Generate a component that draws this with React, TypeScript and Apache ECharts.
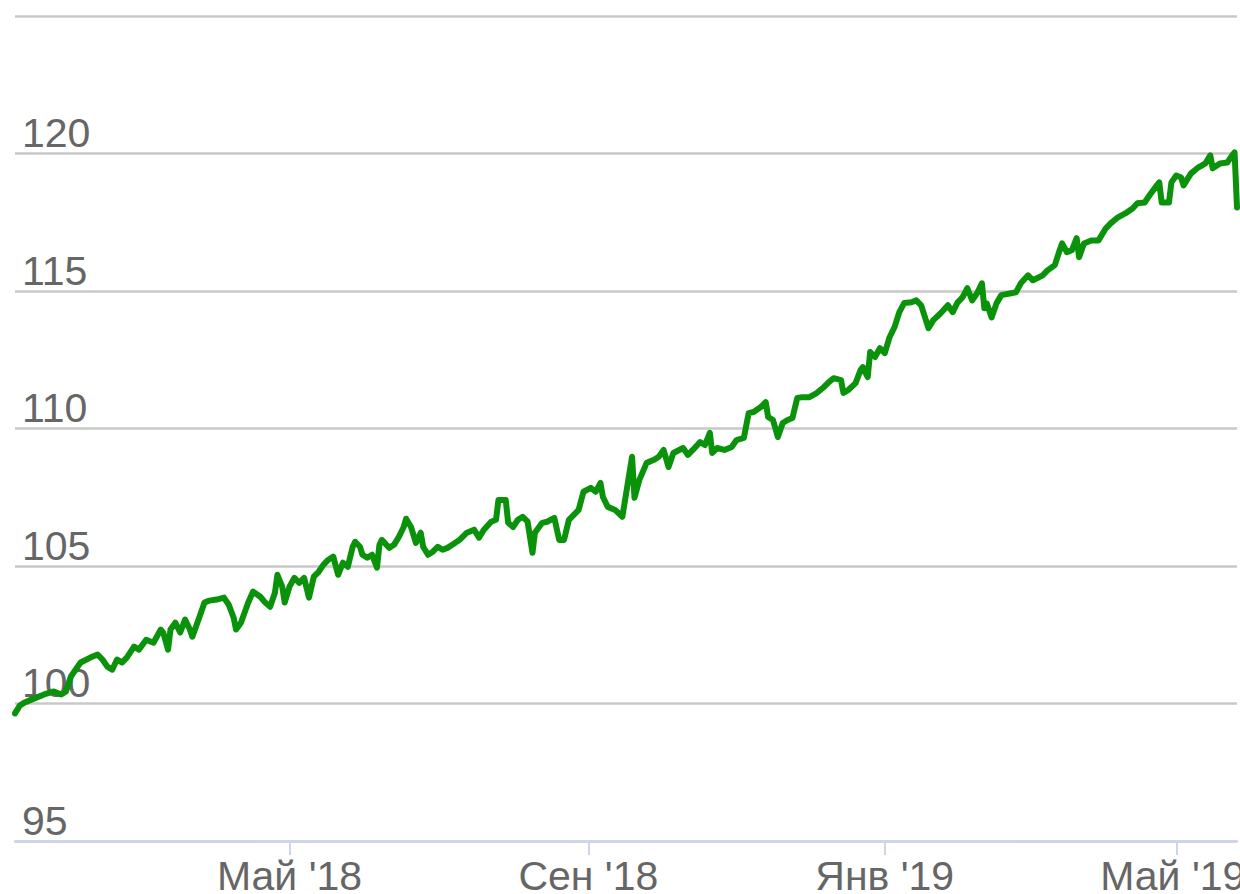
import React, { useEffect, useRef } from "react";
import * as echarts from "echarts";

const dates: string[] = [
  "2018-01-08","2018-01-10","2018-01-12","2018-01-15","2018-01-20","2018-01-24","2018-01-27","2018-01-29","2018-01-31",
  "2018-02-04","2018-02-08","2018-02-11","2018-02-13","2018-02-15","2018-02-17","2018-02-19","2018-02-21","2018-02-23","2018-02-26","2018-02-28",
  "2018-03-03","2018-03-06","2018-03-09","2018-03-10","2018-03-12","2018-03-13","2018-03-15","2018-03-17","2018-03-19","2018-03-21","2018-03-22","2018-03-25","2018-03-27","2018-03-29",
  "2018-04-01","2018-04-04","2018-04-06","2018-04-08","2018-04-09","2018-04-11","2018-04-14","2018-04-16","2018-04-19","2018-04-21","2018-04-23","2018-04-25","2018-04-26","2018-04-28","2018-04-29",
  "2018-05-01","2018-05-03","2018-05-05","2018-05-07","2018-05-09","2018-05-11","2018-05-13","2018-05-15","2018-05-17","2018-05-19","2018-05-21","2018-05-23","2018-05-25","2018-05-27","2018-05-28","2018-05-30","2018-05-31",
  "2018-06-02","2018-06-04","2018-06-06","2018-06-07","2018-06-08","2018-06-11","2018-06-13","2018-06-15","2018-06-17","2018-06-18","2018-06-20","2018-06-22","2018-06-24","2018-06-25","2018-06-27","2018-06-29",
  "2018-07-01","2018-07-03","2018-07-05","2018-07-07","2018-07-10","2018-07-13","2018-07-16","2018-07-18","2018-07-20","2018-07-23","2018-07-25","2018-07-26","2018-07-29","2018-07-30",
  "2018-08-01","2018-08-03","2018-08-05","2018-08-07","2018-08-09","2018-08-10","2018-08-13","2018-08-15","2018-08-18","2018-08-20","2018-08-22","2018-08-24","2018-08-26","2018-08-28","2018-08-30",
  "2018-09-02","2018-09-04","2018-09-06","2018-09-07","2018-09-09","2018-09-12","2018-09-15","2018-09-17","2018-09-19","2018-09-20","2018-09-22","2018-09-25","2018-09-28","2018-09-30",
  "2018-10-02","2018-10-04","2018-10-06","2018-10-10","2018-10-12","2018-10-14","2018-10-17","2018-10-19","2018-10-21","2018-10-22","2018-10-24","2018-10-27","2018-10-30",
  "2018-11-01","2018-11-04","2018-11-06","2018-11-08","2018-11-11","2018-11-13","2018-11-14","2018-11-16","2018-11-18","2018-11-20","2018-11-22","2018-11-24","2018-11-26","2018-11-28",
  "2018-12-01","2018-12-04","2018-12-07","2018-12-09","2018-12-11","2018-12-14","2018-12-15","2018-12-17","2018-12-20","2018-12-22","2018-12-23","2018-12-25","2018-12-26","2018-12-28","2018-12-30",
  "2019-01-01","2019-01-03","2019-01-05","2019-01-07","2019-01-09","2019-01-12","2019-01-14","2019-01-16","2019-01-19","2019-01-21","2019-01-24","2019-01-27","2019-01-29","2019-01-31",
  "2019-02-02","2019-02-04","2019-02-06","2019-02-08","2019-02-10","2019-02-11","2019-02-12","2019-02-14","2019-02-16","2019-02-18","2019-02-22","2019-02-24","2019-02-26",
  "2019-03-01","2019-03-03","2019-03-07","2019-03-09","2019-03-12","2019-03-14","2019-03-15","2019-03-17","2019-03-19","2019-03-21","2019-03-22","2019-03-24","2019-03-27","2019-03-30",
  "2019-04-02","2019-04-04","2019-04-07","2019-04-10","2019-04-13","2019-04-15","2019-04-18","2019-04-20","2019-04-23","2019-04-24","2019-04-25","2019-04-28","2019-04-29",
  "2019-05-01","2019-05-03","2019-05-04","2019-05-07","2019-05-10","2019-05-13","2019-05-15","2019-05-16","2019-05-19","2019-05-22","2019-05-24","2019-05-25","2019-05-26",
];

const values: number[] = [
  99.64,99.93,100.04,100.15,100.33,100.44,100.33,100.44,100.98,
  101.49,101.67,101.78,101.6,101.34,101.23,101.6,101.49,101.67,102.07,101.96,
  102.32,102.21,102.69,102.58,101.96,102.69,102.94,102.58,103.05,102.69,102.43,103.16,103.67,103.74,
  103.78,103.85,103.59,103.12,102.69,102.94,103.67,104.07,103.88,103.67,103.52,104.03,104.68,104.25,103.67,
  104.25,104.57,104.39,104.57,103.85,104.61,104.79,105.05,105.23,105.34,104.68,105.12,104.97,105.7,105.88,105.7,105.41,
  105.3,105.41,104.94,105.77,105.95,105.66,105.77,106.06,106.42,106.72,106.42,105.84,106.21,105.7,105.41,105.52,
  105.7,105.59,105.66,105.77,105.95,106.21,106.32,106.03,106.32,106.61,106.68,107.4,107.4,106.57,
  106.42,106.68,106.79,106.61,105.48,106.21,106.57,106.61,106.75,105.95,105.95,106.68,106.86,107.04,107.7,
  107.84,107.7,108.02,107.51,107.15,107.04,106.79,107.88,108.97,107.48,108.13,108.75,108.86,108.97,
  109.22,108.6,109.11,109.29,109.04,109.22,109.51,109.4,109.84,109.11,109.29,109.22,109.33,
  109.58,109.66,110.56,110.6,110.78,110.96,110.42,110.31,109.69,110.2,110.31,110.38,111.11,111.14,
  111.14,111.29,111.51,111.69,111.83,111.76,111.29,111.4,111.65,112.12,112.23,111.87,112.78,112.6,112.92,
  112.74,113.32,113.68,114.23,114.56,114.59,114.66,114.48,113.65,113.94,114.19,114.48,114.23,114.59,
  114.77,115.1,114.66,114.92,115.28,114.37,114.55,114.04,114.55,114.85,114.92,114.95,115.28,
  115.57,115.39,115.57,115.75,115.94,116.48,116.73,116.41,116.48,116.92,116.23,116.73,116.84,116.84,
  117.28,117.46,117.68,117.82,118.0,118.19,118.22,118.48,118.84,118.95,118.22,118.22,118.95,
  119.2,119.13,118.84,119.27,119.49,119.64,119.93,119.46,119.64,119.67,119.93,120.04,118.04,
];

const xTickDates: string[] = ["2018-05-01", "2018-09-01", "2019-01-01", "2019-05-01"];
const xTickLabels: string[] = ["Май '18", "Сен '18", "Янв '19", "Май '19"];
const xRange: string[] = ["2018-01-08", "2019-05-26"];
const yTicks = { min: 95, max: 125, interval: 5 };

function parseLocal(s: string): number {
  const [y, m, d] = s.split("-").map(Number);
  return new Date(y, m - 1, d).getTime();
}

export default function App() {
  const ref = useRef<HTMLDivElement>(null);

  useEffect(() => {
    document.documentElement.style.overflow = "hidden";
    document.body.style.margin = "0";
    document.body.style.overflow = "hidden";
    if (!ref.current) return;
    const chart = echarts.init(ref.current, undefined, { renderer: "svg" });
    const tickTs = xTickDates.map(parseLocal);
    const font = "'Liberation Sans', Arial, sans-serif";
    chart.setOption({
      animation: false,
      backgroundColor: "#ffffff",
      grid: {
        left: 15,
        right: 3,
        top: 16,
        bottom: 53,
        containLabel: false,
        outerBoundsMode: "none",
      },
      xAxis: {
        type: "value",
        min: parseLocal(xRange[0]),
        max: parseLocal(xRange[1]),
        axisLine: { show: true, lineStyle: { color: "#ccd6eb", width: 2.5 } },
        axisTick: {
          show: true,
          length: 14,
          customValues: tickTs,
          lineStyle: { color: "#ccd6eb", width: 2 },
        },
        axisLabel: {
          customValues: tickTs,
          margin: 20,
          fontSize: 41,
          lineHeight: 30,
          color: "#666666",
          fontFamily: font,
          hideOverlap: false,
          formatter: (val: number) => {
            const i = tickTs.findIndex((t) => Math.abs(t - val) < 43200000);
            if (i < 0) return "";
            return i === xTickLabels.length - 1
              ? "{last|" + xTickLabels[i] + "}"
              : xTickLabels[i];
          },
          rich: {
            last: {
              fontSize: 41,
              lineHeight: 30,
              color: "#666666",
              fontFamily: font,
              padding: [0, 7, 0, 0],
            },
          },
        },
        splitLine: { show: false },
      },
      yAxis: {
        type: "value",
        min: yTicks.min,
        max: yTicks.max,
        interval: yTicks.interval,
        axisLine: { show: false },
        axisTick: { show: false },
        axisLabel: {
          inside: true,
          showMaxLabel: false,
          align: "left",
          verticalAlign: "bottom",
          margin: 7,
          fontSize: 41,
          color: "#666666",
          fontFamily: font,
        },
        splitLine: { show: true, lineStyle: { color: "#c8c8c8", width: 2.5 } },
      },
      series: [
        {
          type: "line",
          data: dates.map((d, i) => [parseLocal(d), values[i]]),
          showSymbol: false,
          symbol: "none",
          clip: false,
          lineStyle: { color: "#0a930a", width: 6, join: "round", cap: "round" },
          z: 3,
        },
      ],
    });
    return () => chart.dispose();
  }, []);

  return (
    <div
      ref={ref}
      style={{ position: "absolute", left: 0, top: 0, width: 1240, height: 894 }}
    />
  );
}
